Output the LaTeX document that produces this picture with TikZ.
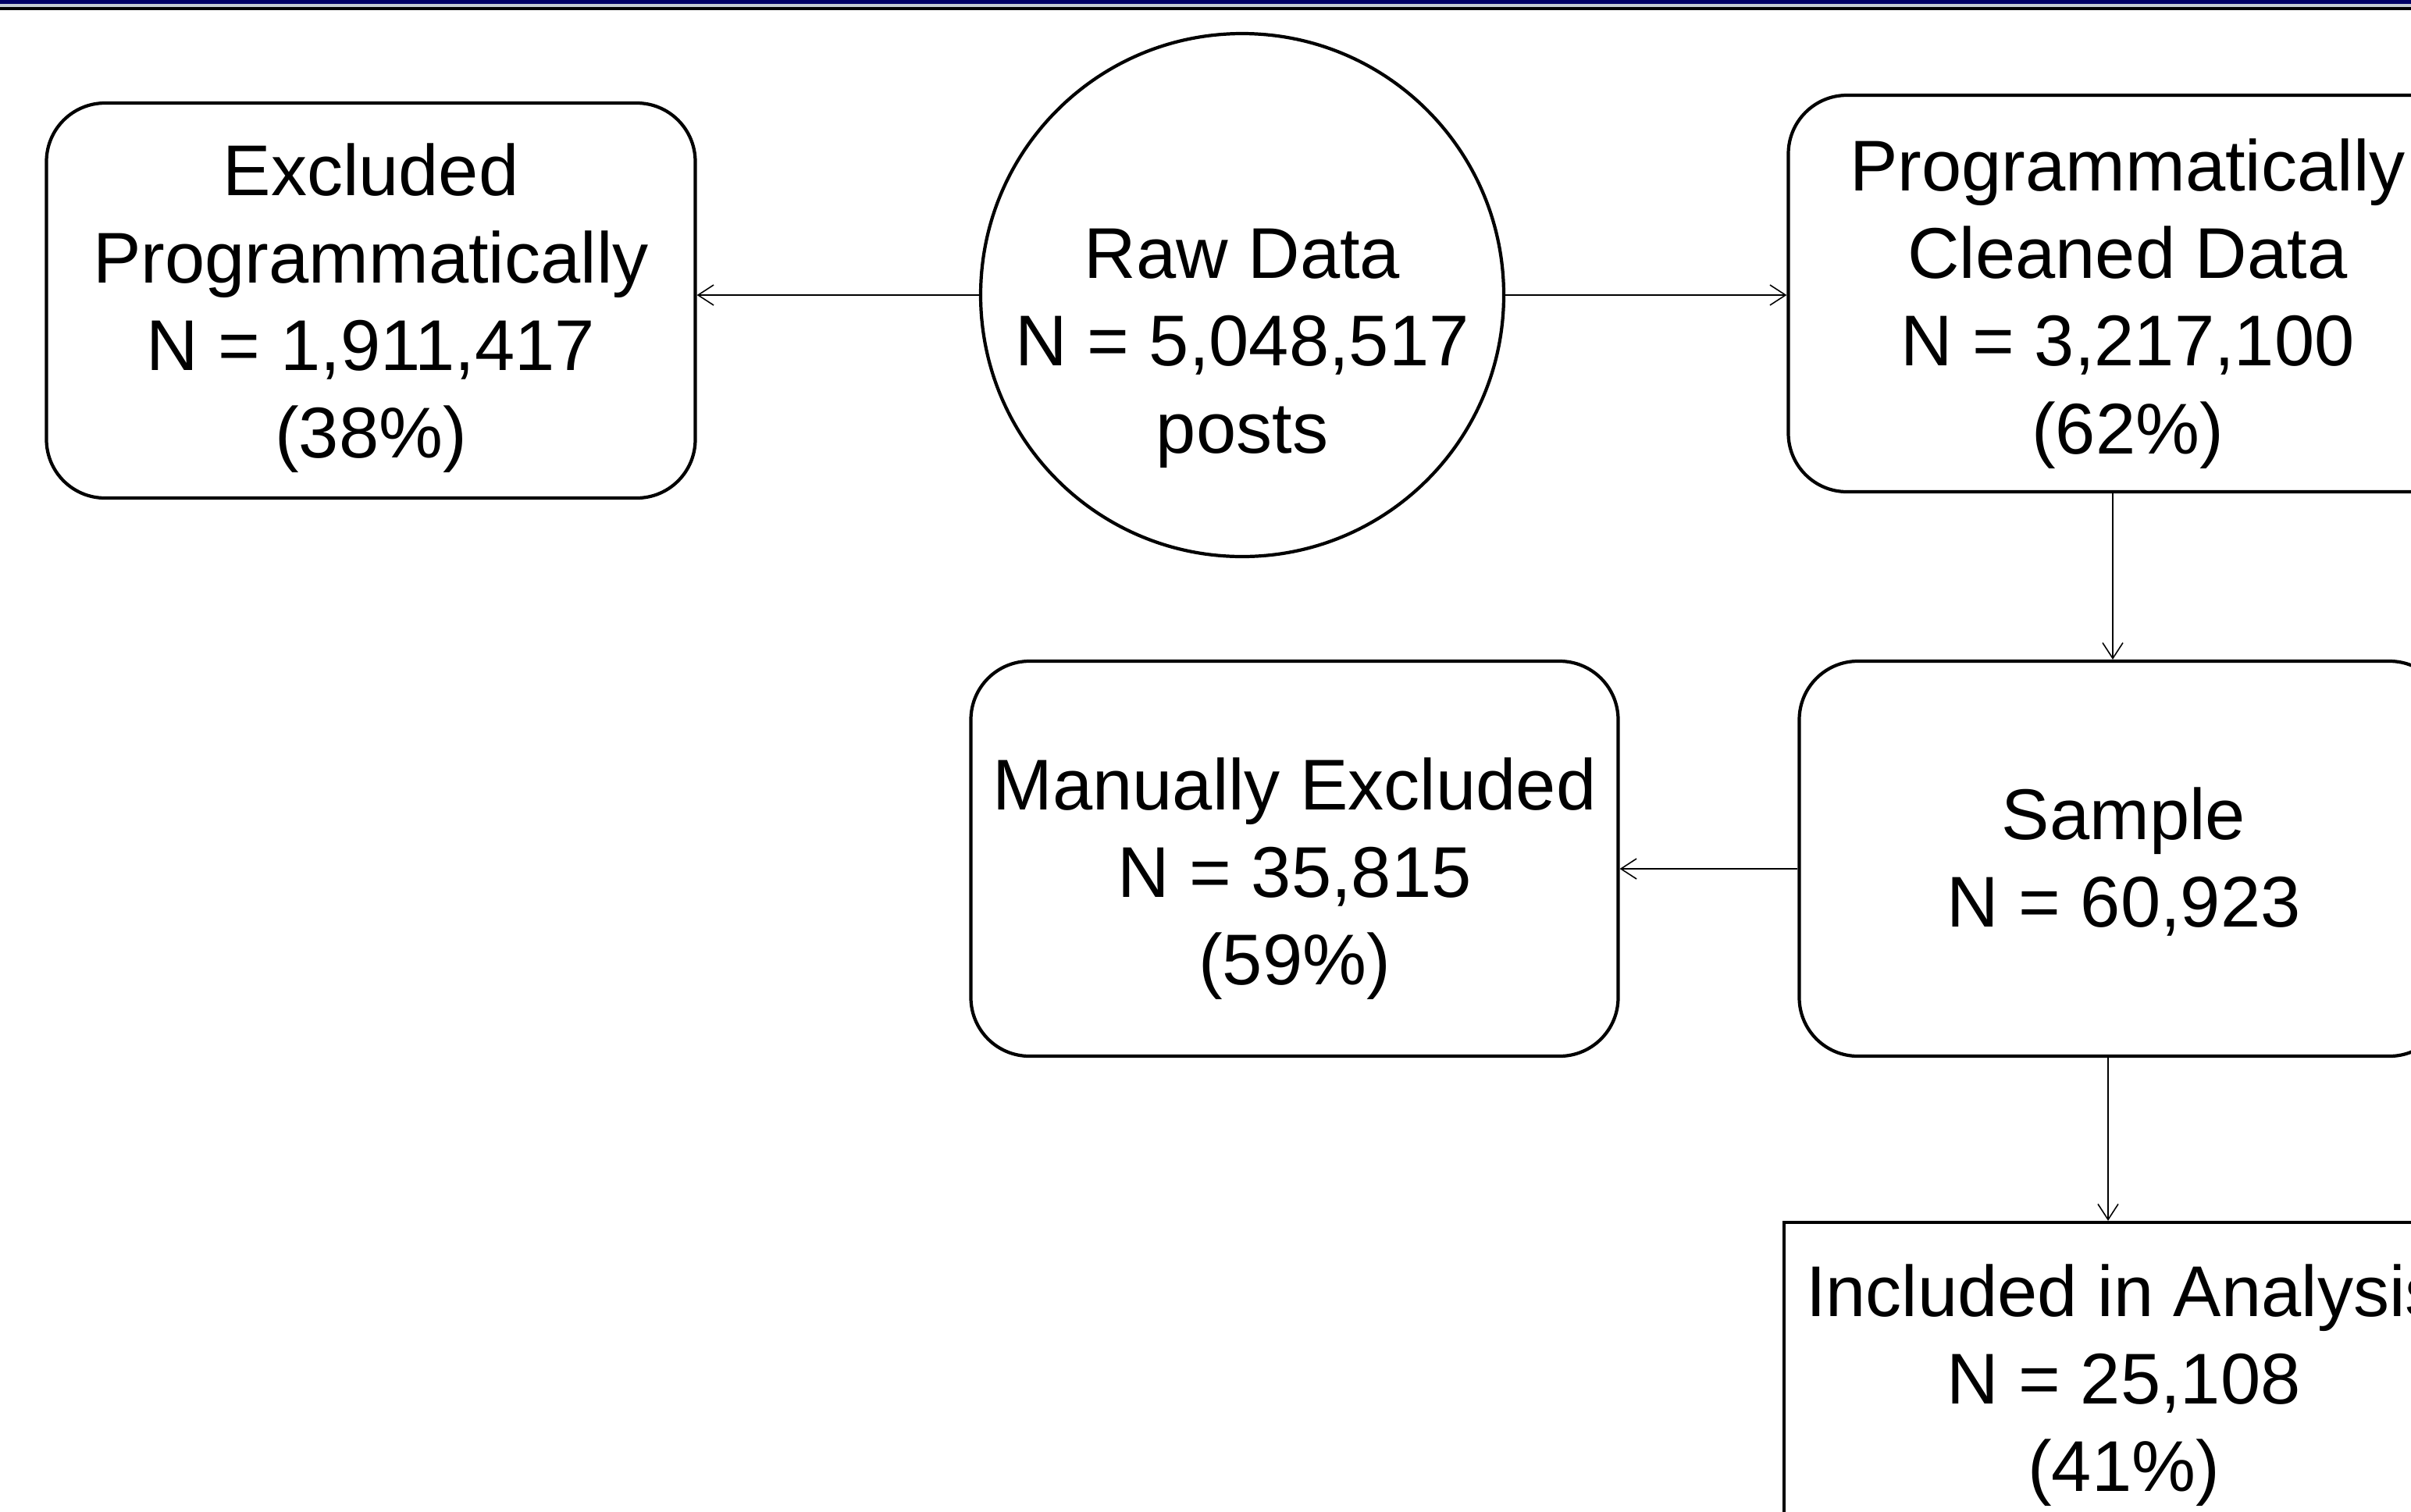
\documentclass[tikz,border=0pt]{standalone}
\usepackage{fontspec}
\setmainfont{Liberation Sans}
\usetikzlibrary{arrows.meta}

\definecolor{bandnavy}{RGB}{0,0,102}
\definecolor{bandgray}{RGB}{196,204,212}

% invisible height on the first line, lowers the text block
\newcommand{\padtop}[1]{\rule{0pt}{#1}}

\tikzset{
    flowbox/.style={draw, line width=1.2pt, rounded corners=0.75cm, align=center, inner sep=0pt,
        font=\fontsize{26.2}{31.9}\selectfont},
    plainbox/.style={draw, line width=1.2pt, align=center, inner sep=0pt,
        font=\fontsize{26.2}{31.9}\selectfont},
    rawcircle/.style={draw, circle, line width=1.2pt, align=center, inner sep=-0.6cm,
        font=\fontsize{26.2}{31.9}\selectfont},
    flowarrow/.style={-{Straight Barb[length=0.2cm,width=0.26cm]}, line width=0.45pt}
}

\begin{document}
\begin{tikzpicture}
        \useasboundingbox (0,0) rectangle (30.88,-19.36);
        \clip (0,0) rectangle (30.88,-19.36);

        % top band
        \fill[bandnavy] (0,0) rectangle (30.88,-0.05);
        \fill[bandgray] (0,-0.05) rectangle (30.88,-0.085);
        \fill[black] (0,-0.09) rectangle (30.88,-0.13);

        % nodes
        \node[flowbox, minimum width=8.31cm, minimum height=5.06cm] (excl) at (4.75,-3.85)
            {\padtop{24.6pt}Excluded\\Programmatically\\N = 1,911,417\\(38\%)};
        \node[rawcircle, minimum size=6.70cm] (raw) at (15.91,-3.78)
            {\padtop{57pt}Raw Data\\N = 5,048,517\\posts};
        \node[flowbox, minimum width=8.69cm, minimum height=5.08cm] (prog) at (27.25,-3.76)
            {\padtop{26.4pt}Programmatically\\Cleaned Data\\N = 3,217,100\\(62\%)};
        \node[flowbox, minimum width=8.31cm, minimum height=5.06cm] (sample) at (27.20,-11.00)
            {\padtop{21.2pt}Sample\\N = 60,923};
        \node[flowbox, minimum width=8.29cm, minimum height=5.06cm] (manual) at (16.58,-11.00)
            {\padtop{33.6pt}Manually Excluded\\N = 35,815\\(59\%)};
        \node[plainbox, minimum width=8.70cm, minimum height=4.02cm] (incl) at (27.20,-17.67)
            {\padtop{23.5pt}Included in Analysis\\N = 25,108\\(41\%)};

        % arrows
        \draw[flowarrow] (raw.west) -- (raw.west -| excl.east);
        \draw[flowarrow] (raw.east) -- (raw.east -| prog.west);
        \draw[flowarrow] ([xshift=-0.19cm]prog.south) -- ([xshift=-0.19cm]prog.south |- sample.north);
        \draw[flowarrow] ([yshift=-0.13cm]sample.west) -- ([yshift=-0.13cm]sample.west -| manual.east);
        \draw[flowarrow] ([xshift=-0.20cm]sample.south) -- ([xshift=-0.20cm]sample.south |- incl.north);
\end{tikzpicture}
\end{document}
